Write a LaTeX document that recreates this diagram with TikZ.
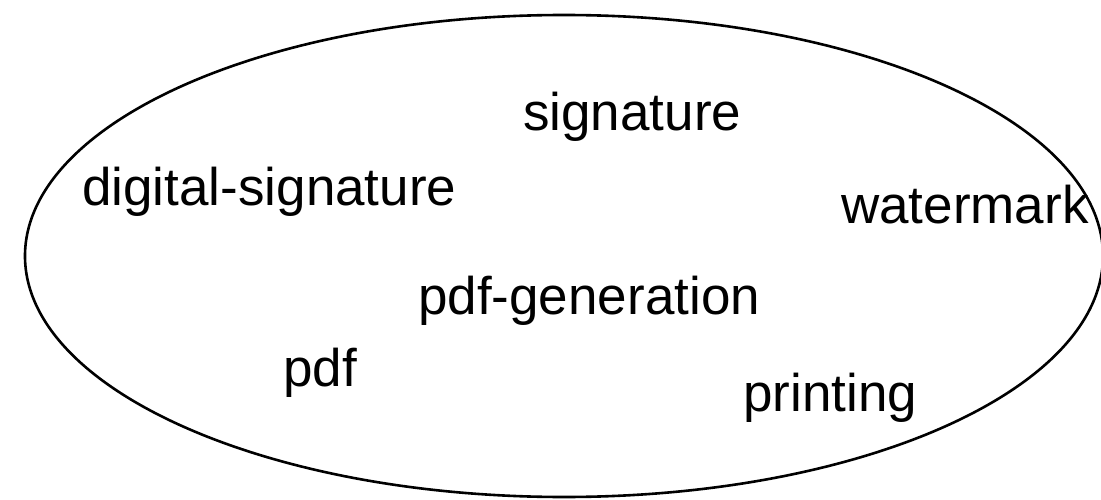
\documentclass[tikz,border=0pt]{standalone}
\usepackage{fontspec}
\setmainfont{Liberation Sans}
\begin{document}
\begin{tikzpicture}[x=1pt,y=-1pt,
  lbl/.style={anchor=base west,inner sep=0pt,font=\fontsize{53}{60}\selectfont}]
\useasboundingbox (0,0) rectangle (1101,500);
\draw[line width=2.6pt] (564,256) ellipse [x radius=539, y radius=241];
\node[lbl] (sig) at (523,131) {signature};
\node[lbl] (dsig) at (82,206) {digital-signature};
\node[lbl] (wm) at (841,223) {watermark};
\node[lbl] (gen) at (418,314) {pdf-generation};
\node[lbl] (pdf) at (283,386) {pdf};
\node[lbl] (pr) at (743,411) {printing};
\end{tikzpicture}
\end{document}
